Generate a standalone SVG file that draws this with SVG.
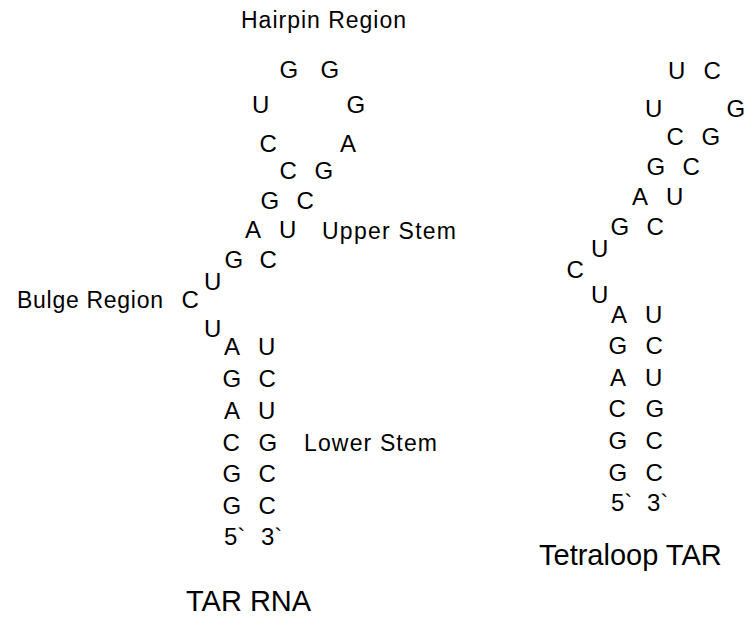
<svg xmlns="http://www.w3.org/2000/svg" width="749" height="618" viewBox="0 0 749 618">
<style>
text{font-family:"Liberation Sans",Arial,sans-serif;fill:#000}
.n{font-size:24px}
.l{font-size:23px}
.t{font-size:29px}
</style>
<rect width="749" height="618" fill="#fff"/>
<g id="tar-rna">
<text class="l" x="241" y="28" textLength="165">Hairpin Region</text>
<text class="n" x="279.5" y="78">G</text>
<text class="n" x="320.5" y="78">G</text>
<text class="n" x="252" y="113">U</text>
<text class="n" x="346.5" y="113">G</text>
<text class="n" x="259.5" y="152">C</text>
<text class="n" x="340" y="152">A</text>
<text class="n" x="279.5" y="179">C</text>
<text class="n" x="314.5" y="179">G</text>
<text class="n" x="260.5" y="209">G</text>
<text class="n" x="296.5" y="209">C</text>
<text class="n" x="245" y="238">A</text>
<text class="n" x="279" y="238">U</text>
<text class="l" x="322" y="239" textLength="134">Upper Stem</text>
<text class="n" x="224.5" y="268">G</text>
<text class="n" x="259.5" y="268">C</text>
<text class="n" x="204" y="290">U</text>
<text class="l" x="17" y="308" textLength="146">Bulge Region</text>
<text class="n" x="181.5" y="308">C</text>
<text class="n" x="204" y="337">U</text>
<text class="n" x="224" y="355">A</text>
<text class="n" x="258" y="355">U</text>
<text class="n" x="222.5" y="387">G</text>
<text class="n" x="258.5" y="387">C</text>
<text class="n" x="224" y="419">A</text>
<text class="n" x="258" y="419">U</text>
<text class="n" x="222.5" y="451">C</text>
<text class="n" x="258.5" y="451">G</text>
<text class="l" x="304" y="451" textLength="133">Lower Stem</text>
<text class="n" x="222.5" y="482">G</text>
<text class="n" x="258.5" y="482">C</text>
<text class="n" x="222.5" y="514">G</text>
<text class="n" x="258.5" y="514">C</text>
<text class="n" x="224" y="545">5`</text>
<text class="n" x="261" y="545">3`</text>
<text class="t" x="186" y="611">TAR RNA</text>
</g>
<g id="tetraloop-tar">
<text class="n" x="668" y="79">U</text>
<text class="n" x="703.5" y="79">C</text>
<text class="n" x="645" y="117">U</text>
<text class="n" x="726.5" y="117">G</text>
<text class="n" x="666.5" y="145">C</text>
<text class="n" x="701.5" y="145">G</text>
<text class="n" x="646.5" y="175">G</text>
<text class="n" x="682.5" y="175">C</text>
<text class="n" x="632" y="205">A</text>
<text class="n" x="666" y="205">U</text>
<text class="n" x="610.5" y="235">G</text>
<text class="n" x="646.5" y="235">C</text>
<text class="n" x="591" y="257">U</text>
<text class="n" x="566.5" y="278">C</text>
<text class="n" x="591" y="303">U</text>
<text class="n" x="611" y="323">A</text>
<text class="n" x="645" y="323">U</text>
<text class="n" x="608.5" y="354">G</text>
<text class="n" x="645.5" y="354">C</text>
<text class="n" x="610" y="386">A</text>
<text class="n" x="645" y="386">U</text>
<text class="n" x="608.5" y="417">C</text>
<text class="n" x="645.5" y="417">G</text>
<text class="n" x="608.5" y="449">G</text>
<text class="n" x="645.5" y="449">C</text>
<text class="n" x="608.5" y="481">G</text>
<text class="n" x="645.5" y="481">C</text>
<text class="n" x="611" y="511">5`</text>
<text class="n" x="647" y="511">3`</text>
<text class="t" x="539" y="565">Tetraloop TAR</text>
</g>
</svg>
